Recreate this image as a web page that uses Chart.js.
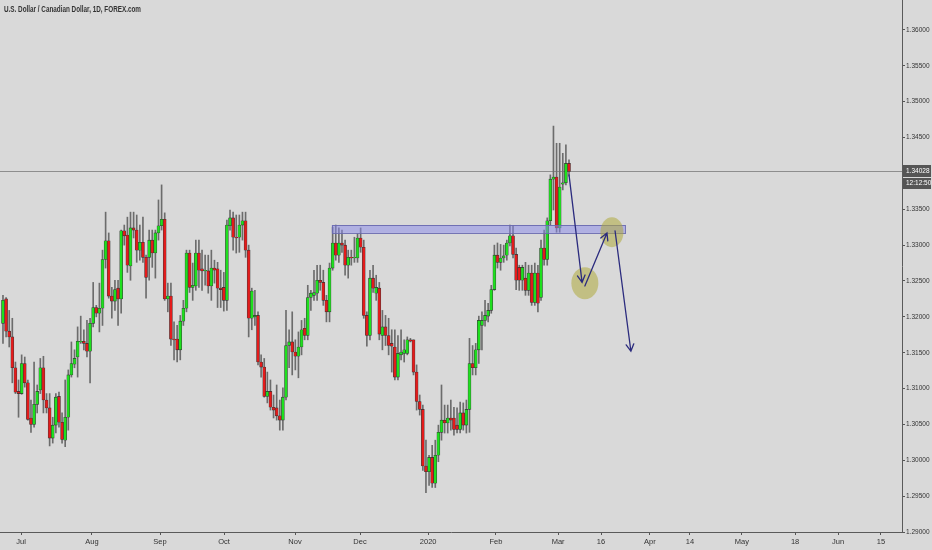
<!DOCTYPE html>
<html><head><meta charset="utf-8">
<script src="https://cdn.jsdelivr.net/npm/chart.js@4.4.1/dist/chart.umd.min.js"></script>
<style>html,body{margin:0;padding:0;background:#d9d9d9;overflow:hidden}canvas{display:block}</style>
</head><body>
<canvas id="c" width="932" height="550"></canvas>
<script>
const titleText = 'U.S. Dollar / Canadian Dollar, 1D, FOREX.com';
const countdown = '12:12:50';

const opens = [1.3191,1.3225,1.3180,1.3172,1.3129,1.3096,1.3093,1.3135,1.3108,1.3059,
1.3050,1.3078,1.3098,1.3129,1.3084,1.3073,1.3031,1.3049,1.3089,1.3053,
1.3028,1.3060,1.3119,1.3134,1.3144,1.3165,1.3166,1.3163,1.3152,1.3191,
1.3213,1.3205,1.3212,1.3280,1.3306,1.3229,1.3222,1.3240,1.3225,1.3320,
1.3314,1.3271,1.3324,1.3321,1.3293,1.3304,1.3283,1.3283,1.3307,1.3289,
1.3317,1.3327,1.3336,1.3225,1.3229,1.3169,1.3169,1.3154,1.3194,1.3212,
1.3289,1.3241,1.3243,1.3289,1.3267,1.3264,1.3264,1.3243,1.3268,1.3267,
1.3240,1.3241,1.3223,1.3327,1.3338,1.3311,1.3311,1.3328,1.3334,1.3293,
1.3198,1.3200,1.3202,1.3137,1.3130,1.3089,1.3096,1.3074,1.3073,1.3062,
1.3056,1.3088,1.3160,1.3165,1.3151,1.3145,1.3158,1.3184,1.3174,1.3227,
1.3230,1.3233,1.3251,1.3248,1.3223,1.3207,1.3268,1.3303,1.3286,1.3303,
1.3300,1.3272,1.3283,1.3282,1.3282,1.3310,1.3297,1.3202,1.3174,1.3254,
1.3233,1.3240,1.3174,1.3186,1.3174,1.3163,1.3158,1.3116,1.3147,1.3149,
1.3149,1.3168,1.3168,1.3123,1.3082,1.3071,1.2992,1.2984,1.3004,1.2968,
1.3007,1.3039,1.3056,1.3052,1.3059,1.3059,1.3049,1.3043,1.3066,1.3049,
1.3071,1.3135,1.3129,1.3154,1.3188,1.3195,1.3201,1.3209,1.3238,1.3286,
1.3276,1.3282,1.3286,1.3303,1.3313,1.3287,1.3269,1.3251,1.3254,1.3237,
1.3261,1.3220,1.3261,1.3227,1.3296,1.3280,1.3334,1.3392,1.3395,1.3324,
1.3385,1.3387,1.3414];
const highs = [1.3230,1.3227,1.3209,1.3198,1.3137,1.3112,1.3147,1.3144,1.3112,1.3084,
1.3137,1.3105,1.3142,1.3145,1.3093,1.3093,1.3060,1.3093,1.3095,1.3066,
1.3112,1.3126,1.3165,1.3154,1.3186,1.3201,1.3182,1.3195,1.3198,1.3248,
1.3216,1.3247,1.3293,1.3346,1.3317,1.3241,1.3251,1.3251,1.3321,1.3328,
1.3339,1.3346,1.3346,1.3342,1.3328,1.3339,1.3286,1.3321,1.3321,1.3321,
1.3363,1.3384,1.3345,1.3247,1.3247,1.3193,1.3188,1.3202,1.3223,1.3293,
1.3293,1.3275,1.3307,1.3307,1.3293,1.3286,1.3286,1.3293,1.3279,1.3276,
1.3265,1.3262,1.3335,1.3349,1.3346,1.3342,1.3342,1.3346,1.3346,1.3300,
1.3240,1.3237,1.3207,1.3147,1.3142,1.3123,1.3112,1.3091,1.3105,1.3084,
1.3101,1.3209,1.3182,1.3207,1.3168,1.3179,1.3195,1.3198,1.3244,1.3237,
1.3265,1.3272,1.3272,1.3265,1.3230,1.3275,1.3325,1.3328,1.3324,1.3321,
1.3307,1.3293,1.3293,1.3311,1.3316,1.3324,1.3307,1.3207,1.3265,1.3272,
1.3258,1.3248,1.3209,1.3202,1.3198,1.3182,1.3182,1.3174,1.3182,1.3168,
1.3172,1.3170,1.3168,1.3133,1.3091,1.3077,1.3028,1.3007,1.3021,1.3028,
1.3049,1.3105,1.3077,1.3077,1.3084,1.3074,1.3073,1.3081,1.3080,1.3084,
1.3170,1.3160,1.3163,1.3201,1.3207,1.3223,1.3219,1.3244,1.3300,1.3303,
1.3301,1.3300,1.3307,1.3328,1.3327,1.3296,1.3272,1.3272,1.3276,1.3272,
1.3272,1.3275,1.3272,1.3307,1.3321,1.3338,1.3398,1.3466,1.3442,1.3442,
1.3428,1.3440,1.3419];
const lows = [1.3163,1.3172,1.3158,1.3108,1.3093,1.3060,1.3092,1.3102,1.3056,1.3039,
1.3046,1.3066,1.3093,1.3066,1.3066,1.3020,1.3024,1.3038,1.3046,1.3024,
1.3019,1.3042,1.3116,1.3129,1.3116,1.3163,1.3154,1.3144,1.3108,1.3186,
1.3200,1.3179,1.3188,1.3268,1.3226,1.3198,1.3209,1.3188,1.3205,1.3300,
1.3262,1.3251,1.3310,1.3276,1.3279,1.3276,1.3226,1.3251,1.3269,1.3254,
1.3307,1.3321,1.3223,1.3207,1.3160,1.3140,1.3137,1.3140,1.3188,1.3207,
1.3234,1.3223,1.3237,1.3241,1.3237,1.3244,1.3233,1.3223,1.3247,1.3213,
1.3213,1.3208,1.3209,1.3321,1.3293,1.3289,1.3290,1.3307,1.3283,1.3172,
1.3182,1.3188,1.3133,1.3116,1.3088,1.3080,1.3070,1.3059,1.3056,1.3042,
1.3042,1.3084,1.3129,1.3119,1.3126,1.3115,1.3147,1.3168,1.3168,1.3209,
1.3223,1.3223,1.3237,1.3216,1.3193,1.3193,1.3265,1.3279,1.3276,1.3290,
1.3258,1.3254,1.3272,1.3276,1.3276,1.3290,1.3198,1.3159,1.3168,1.3234,
1.3223,1.3168,1.3154,1.3160,1.3147,1.3123,1.3112,1.3112,1.3140,1.3137,
1.3147,1.3165,1.3119,1.3070,1.3063,1.2986,1.2955,1.2965,1.2962,1.2962,
1.2998,1.3028,1.3038,1.3038,1.3042,1.3035,1.3038,1.3038,1.3042,1.3038,
1.3039,1.3119,1.3119,1.3135,1.3154,1.3187,1.3193,1.3205,1.3237,1.3268,
1.3265,1.3276,1.3279,1.3299,1.3282,1.3238,1.3237,1.3237,1.3230,1.3230,
1.3216,1.3216,1.3207,1.3223,1.3272,1.3272,1.3328,1.3349,1.3318,1.3318,
1.3377,1.3384,1.3396];
const closes = [1.3223,1.3180,1.3172,1.3129,1.3095,1.3093,1.3135,1.3108,1.3057,1.3050,
1.3078,1.3096,1.3129,1.3084,1.3073,1.3031,1.3049,1.3088,1.3053,1.3029,
1.3060,1.3119,1.3135,1.3142,1.3166,1.3166,1.3163,1.3152,1.3191,1.3213,
1.3205,1.3212,1.3280,1.3306,1.3229,1.3222,1.3238,1.3225,1.3320,1.3313,
1.3272,1.3324,1.3321,1.3293,1.3304,1.3283,1.3255,1.3307,1.3289,1.3317,
1.3327,1.3336,1.3225,1.3229,1.3169,1.3168,1.3154,1.3194,1.3212,1.3289,
1.3241,1.3244,1.3289,1.3265,1.3264,1.3265,1.3243,1.3268,1.3265,1.3240,
1.3238,1.3223,1.3328,1.3338,1.3311,1.3310,1.3328,1.3334,1.3293,1.3198,
1.3236,1.3202,1.3137,1.3130,1.3089,1.3096,1.3074,1.3070,1.3062,1.3056,
1.3088,1.3160,1.3165,1.3151,1.3145,1.3158,1.3182,1.3174,1.3227,1.3233,
1.3234,1.3251,1.3248,1.3223,1.3207,1.3268,1.3303,1.3286,1.3303,1.3300,
1.3272,1.3283,1.3282,1.3283,1.3310,1.3297,1.3202,1.3174,1.3254,1.3240,
1.3241,1.3176,1.3186,1.3174,1.3160,1.3159,1.3116,1.3149,1.3151,1.3154,
1.3168,1.3166,1.3123,1.3082,1.3071,1.2992,1.2984,1.3004,1.2968,1.3007,
1.3039,1.3056,1.3052,1.3059,1.3056,1.3043,1.3043,1.3066,1.3049,1.3071,
1.3135,1.3129,1.3154,1.3195,1.3195,1.3202,1.3209,1.3238,1.3286,1.3276,
1.3282,1.3285,1.3303,1.3313,1.3287,1.3251,1.3251,1.3269,1.3237,1.3261,
1.3220,1.3261,1.3219,1.3296,1.3280,1.3334,1.3392,1.3395,1.3324,1.3381,
1.3387,1.3414,1.34028];

const xTickPos = [5.8,28.6,50.5,71.1,93.9,114.8,136.7,158.5,178.5,192.3,208.0,220.9,237.6,254.7,268.5,282.3];
const xTickLabels = ['Jul','Aug','Sep','Oct','Nov','Dec','2020','Feb','Mar','16','Apr','14','May','18','Jun','15'];
const yTickVals = [1.29,1.295,1.30,1.305,1.31,1.315,1.32,1.325,1.33,1.335,1.34,1.345,1.35,1.355,1.36];
const xRange = [-0.96, 289.07];
const yRange = [1.29, 1.36418];

// drawings (index, price)
const zoneX = [105.7, 200.0];
const zoneY = [1.3317, 1.3328];
const circleX = [187.1, 195.8];
const circleY = [1.3247, 1.3318];
const arrowFromX = [182.0, 187.1, 196.8];
const arrowFromY = [1.3398, 1.3243, 1.3320];
const arrowToX = [186.2, 194.2, 201.9];
const arrowToY = [1.3248, 1.3317, 1.3152];

const UP = '#1ee01e', DOWN = '#e41b1b';
const bodyData = closes.map((c,i)=>({x:i, y:[opens[i], c]}));
const wickData = closes.map((c,i)=>({x:i, y:[lows[i], highs[i]]}));
const bodyColors = closes.map((c,i)=> c >= opens[i] ? UP : DOWN);
const FONT = "'Liberation Sans','DejaVu Sans',sans-serif";

const overlay = {
  id:'overlay',
  beforeDatasetsDraw(chart){
    const {ctx, scales:{x,y}, chartArea:a} = chart;
    const py = Math.round(y.getPixelForValue(closes[closes.length-1])) + 0.5;
    ctx.save();
    ctx.strokeStyle = '#8e8e8e'; ctx.lineWidth = 1;
    ctx.beginPath(); ctx.moveTo(a.left, py); ctx.lineTo(a.right, py); ctx.stroke();
    ctx.restore();
  },
  afterDatasetsDraw(chart){
    const {ctx, scales:{x,y}} = chart;
    ctx.save();
    const zx0 = x.getPixelForValue(zoneX[0]), zx1 = x.getPixelForValue(zoneX[1]);
    const zy0 = y.getPixelForValue(zoneY[1]), zy1 = y.getPixelForValue(zoneY[0]);
    ctx.fillStyle = 'rgba(135,135,235,0.5)';
    ctx.fillRect(zx0, zy0, zx1-zx0, zy1-zy0);
    ctx.strokeStyle = 'rgba(105,105,175,0.9)'; ctx.lineWidth = 1;
    ctx.strokeRect(Math.round(zx0)+0.5, Math.round(zy0)+0.5, Math.round(zx1-zx0), Math.round(zy1-zy0));
    ctx.fillStyle = 'rgba(175,170,60,0.55)';
    const rads = [[13.5,16],[11.5,15]];
    circleX.forEach((cx,i)=>{
      ctx.beginPath();
      ctx.ellipse(x.getPixelForValue(cx), y.getPixelForValue(circleY[i]), rads[i][0], rads[i][1], 0, 0, Math.PI*2);
      ctx.fill();
    });
    ctx.strokeStyle = '#2b2b7e'; ctx.lineWidth = 1.3; ctx.lineCap = 'round';
    arrowFromX.forEach((fx,i)=>{
      const x0 = x.getPixelForValue(fx), y0 = y.getPixelForValue(arrowFromY[i]);
      const x1 = x.getPixelForValue(arrowToX[i]), y1 = y.getPixelForValue(arrowToY[i]);
      const ang = Math.atan2(y1-y0, x1-x0), L = 8, s = 0.5;
      ctx.beginPath(); ctx.moveTo(x0,y0); ctx.lineTo(x1,y1);
      ctx.moveTo(x1 - L*Math.cos(ang-s), y1 - L*Math.sin(ang-s)); ctx.lineTo(x1,y1);
      ctx.lineTo(x1 - L*Math.cos(ang+s), y1 - L*Math.sin(ang+s));
      ctx.stroke();
    });
    ctx.restore();
  },
  afterDraw(chart){
    const {ctx, scales:{y}, chartArea:a} = chart;
    ctx.save();
    const last = closes[closes.length-1];
    const py = Math.round(y.getPixelForValue(last));
    ctx.fillStyle = '#555555';
    ctx.fillRect(a.right+1, py-6, chart.width-a.right-2, 12);
    ctx.fillRect(a.right+1, py+7, chart.width-a.right-2, 11);
    ctx.fillStyle = '#ffffff';
    ctx.font = '6.5px ' + FONT;
    ctx.textBaseline = 'middle'; ctx.textAlign = 'left';
    ctx.fillText(last.toFixed(5), a.right+4, py);
    ctx.fillText(countdown, a.right+4, py+12.5);
    ctx.fillStyle = '#333333';
    ctx.font = 'bold 9px ' + FONT;
    ctx.textBaseline = 'top';
    const w = ctx.measureText(titleText).width;
    ctx.translate(4, 5);
    ctx.scale(137 / w, 1);
    ctx.fillText(titleText, 0, 0);
    ctx.restore();
  }
};

new Chart(document.getElementById('c'), {
  type:'bar',
  data:{datasets:[
    {data:bodyData, backgroundColor:bodyColors, borderColor:'rgba(35,35,35,0.85)', borderWidth:0.6, borderSkipped:false, barThickness:3, grouped:false, order:0},
    {data:wickData, backgroundColor:'#6c6c6c', borderWidth:0, barThickness:1, grouped:false, order:1}
  ]},
  options:{
    responsive:false, animation:false, devicePixelRatio:1,
    layout:{padding:0},
    plugins:{legend:{display:false}, tooltip:{enabled:false}, title:{display:false}},
    scales:{
      x:{type:'linear', min:xRange[0], max:xRange[1], offset:false,
        grid:{offset:false, drawOnChartArea:false, drawTicks:true, tickLength:3, color:'#555'},
        border:{display:true, color:'#5a5a5a', width:1},
        afterBuildTicks:(s)=>{ s.ticks = xTickPos.map(v=>({value:v})); },
        afterFit:(s)=>{ s.height = 18; s.paddingLeft = 0; s.paddingRight = 0; },
        ticks:{autoSkip:false, maxRotation:0, padding:2, color:'#333', font:{size:7.5, family:FONT},
          callback:(v)=>{ const k = xTickPos.indexOf(v); return k>=0 ? xTickLabels[k] : ''; }}
      },
      y:{type:'linear', position:'right', min:yRange[0], max:yRange[1],
        grid:{drawOnChartArea:false, drawTicks:true, tickLength:3, color:'#555'},
        border:{display:true, color:'#5a5a5a', width:1},
        afterBuildTicks:(s)=>{ s.ticks = yTickVals.map(v=>({value:v})); },
        afterFit:(s)=>{ s.width = 30; s.paddingTop = 0; s.paddingBottom = 0; },
        ticks:{padding:1, color:'#333', font:{size:6.5, family:FONT}, callback:(v)=>Number(v).toFixed(5)}
      }
    }
  },
  plugins:[overlay]
});
</script>
</body></html>
